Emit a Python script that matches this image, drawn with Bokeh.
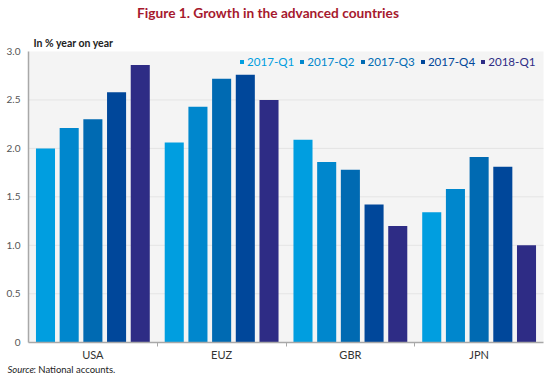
from bokeh.plotting import figure
from bokeh.models import (ColumnDataSource, Range1d, FixedTicker, Legend, LegendItem,
                          Label, BoxAnnotation, NumeralTickFormatter)
from bokeh.transform import dodge
from bokeh.embed import file_html
from bokeh.resources import INLINE

countries = ["USA", "EUZ", "GBR", "JPN"]
quarters = ["2017-Q1", "2017-Q2", "2017-Q3", "2017-Q4", "2018-Q1"]
q2017_1 = [2.00, 2.06, 2.09, 1.34]
q2017_2 = [2.21, 2.43, 1.86, 1.58]
q2017_3 = [2.30, 2.72, 1.78, 1.91]
q2017_4 = [2.58, 2.76, 1.42, 1.81]
q2018_1 = [2.86, 2.50, 1.20, 1.00]
series = [q2017_1, q2017_2, q2017_3, q2017_4, q2018_1]
colors = ["#009EE0", "#0087CD", "#006AB2", "#00479A", "#2E2C85"]
y_ticks = [0, 0.5, 1.0, 1.5, 2.0, 2.5, 3.0]
y_max = 3.0

FONT = "Lato"
n = len(countries)

data = {"x": [i + 0.5 for i in range(n)]}
for q, s in zip(quarters, series):
    data[q] = s
src = ColumnDataSource(data)

# frame covers the whole canvas; axes are pinned at x=0 / y=0
W, H = 550, 386
px_x = 515 / n          # pixels per group
px_y = 290.7 / y_max    # pixels per unit
x_start = -28 / px_x
x_end = n + 7 / px_x
y_end = y_max + 51 / px_y
y_start = -44.3 / px_y

p = figure(width=W, height=H, output_backend="svg", toolbar_location=None,
           x_range=Range1d(x_start, x_end), y_range=Range1d(y_start, y_end),
           min_border=0, min_border_left=0, min_border_right=0,
           min_border_top=0, min_border_bottom=0)
p.outline_line_color = None
p.background_fill_color = "white"
p.border_fill_color = "white"
p.xgrid.visible = False
p.ygrid.visible = False

p.add_layout(BoxAnnotation(left=0, right=n, bottom=0, top=y_max,
                           fill_color="#f4f4f4", fill_alpha=1, line_color=None,
                           level="image"))
grid_y = [t for t in y_ticks if 0 < t < y_max]
p.segment(x0=[0] * len(grid_y), x1=[n] * len(grid_y), y0=grid_y, y1=grid_y,
          line_color="#e4e4e4", line_width=1, level="underlay")

step = 0.184
renderers = []
for k, (q, c) in enumerate(zip(quarters, colors)):
    r = p.vbar(x=dodge("x", (k - 2) * step, range=p.x_range), top=q, width=0.148,
               source=src, fill_color=c, line_color=None)
    renderers.append(r)

# axes
xa = p.xaxis[0]
xa.fixed_location = 0
xa.bounds = (0, n)
xa.ticker = FixedTicker(ticks=data["x"], minor_ticks=list(range(1, n)))
xa.major_label_overrides = {x: c for x, c in zip(data["x"], countries)}
xa.major_tick_line_color = None
xa.major_tick_out = 0
xa.major_tick_in = 0
xa.minor_tick_out = 4
xa.minor_tick_in = 0
xa.minor_tick_line_color = "#a8a8a8"
xa.axis_line_color = "#a8a8a8"
xa.axis_line_width = 1.5
xa.major_label_text_font = FONT
xa.major_label_text_font_size = "11px"
xa.major_label_text_color = "#333333"
xa.major_label_standoff = 2

ya = p.yaxis[0]
ya.fixed_location = 0
ya.bounds = (0, y_max)
ya.ticker = FixedTicker(ticks=y_ticks)
ya.formatter = NumeralTickFormatter(format="0.0")
ya.major_label_overrides = {0: "0"}
ya.major_tick_line_color = None
ya.major_tick_out = 0
ya.major_tick_in = 0
ya.minor_tick_line_color = None
ya.axis_line_color = "#a8a8a8"
ya.axis_line_width = 1.5
ya.major_label_text_font = FONT
ya.major_label_text_font_size = "10px"
ya.major_label_text_color = "#555555"
ya.major_label_standoff = 8

# legends, one per item so each label has its series colour
for k, (q, c, r) in enumerate(zip(quarters, colors, renderers)):
    lg = Legend(items=[LegendItem(label=q, renderers=[r])],
                location=(239 + k * 60.3, 318), orientation="horizontal",
                padding=0, margin=0, spacing=0, border_line_color=None,
                background_fill_alpha=0, glyph_width=5, glyph_height=5,
                label_standoff=3, label_height=12, label_text_color=c,
                label_text_font=FONT, label_text_font_size="11.6px")
    p.add_layout(lg, "center")

# texts
p.add_layout(Label(x=n / 2, y=y_max, x_offset=-18, y_offset=39,
                   text="Figure 1. Growth in the advanced countries",
                   text_align="center", text_baseline="alphabetic",
                   text_font=FONT, text_font_size="13.7px", text_font_style="bold",
                   text_color="#A6192E"))
p.add_layout(Label(x=0, y=y_max, x_offset=5, y_offset=9,
                   text="In % year on year", text_baseline="alphabetic",
                   text_font=FONT, text_font_size="10.5px", text_font_style="bold",
                   text_color="#222222"))
p.add_layout(Label(x=0, y=0, x_offset=-21, y_offset=-27,
                   text="Source", text_baseline="alphabetic",
                   text_font=FONT, text_font_size="9.5px", text_font_style="italic",
                   text_color="#222222"))
p.add_layout(Label(x=0, y=0, x_offset=5, y_offset=-27,
                   text=": National accounts.", text_baseline="alphabetic",
                   text_font=FONT, text_font_size="9.5px",
                   text_color="#222222"))

open("out.html", "w").write(file_html(p, INLINE))
